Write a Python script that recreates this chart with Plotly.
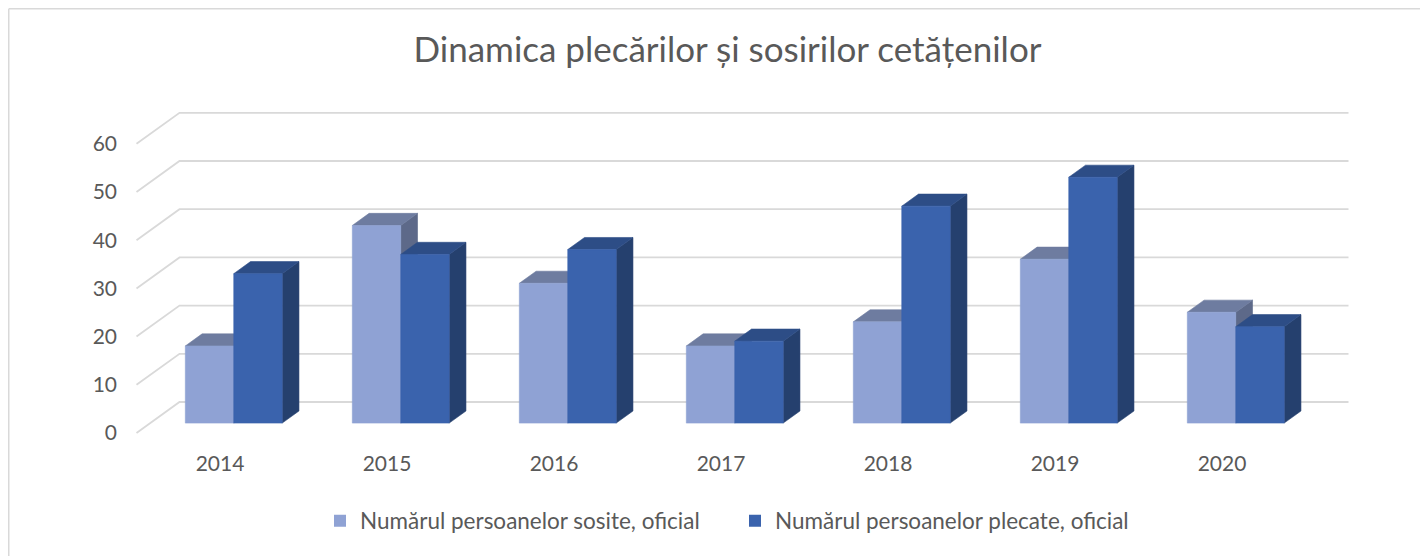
import plotly.graph_objects as go

# ---- data ----
years = ["2014", "2015", "2016", "2017", "2018", "2019", "2020"]
sosite = [16, 41, 29, 16, 21, 34, 23]      # Numărul persoanelor sosite, oficial
plecate = [31, 35, 36, 17, 45, 51, 20]     # Numărul persoanelor plecate, oficial
y_ticks = [0, 10, 20, 30, 40, 50, 60]
series_names = ["Numărul persoanelor sosite, oficial", "Numărul persoanelor plecate, oficial"]
title_text = "Dinamica plecărilor și sosirilor cetățenilor"

# ---- layout / projection constants (figure pixels; page body adds an 8px offset) ----
OFF = 8
W, H = 1428 - OFF, 556 - OFF
L, R, T, B = 114, 60, 87, 111
X0_PX, X_STEP_PX = 220.0 - OFF, 167.0      # category centre at front plane
Y0_PX, Y_UNIT_PX = 433.0 - OFF, 4.82       # value 0 at front plane, px per unit
DEPTH_DX_PX, DEPTH_DY_PX = 43.0, 31.0      # oblique depth offset of back wall

plot_w = W - L - R
plot_h = H - T - B
x_range = [(L - X0_PX) / X_STEP_PX, (W - R - X0_PX) / X_STEP_PX]
y_range = [(Y0_PX - (H - B)) / Y_UNIT_PX, (Y0_PX - T) / Y_UNIT_PX]
KX = DEPTH_DX_PX / X_STEP_PX
KY = DEPTH_DY_PX / Y_UNIT_PX

Z_FRONT, Z_BACK = 0.32, 0.71   # bar depth slot
BAR_W = 0.29
N = len(years)
XMIN, XMAX = -0.5, N - 0.5

GRID = "#D9D9D9"
TXT = "#595959"
FONT = "Lato"

colors = {
    0: dict(front="#8FA2D4", top="#6E7CA0", side="#5D6989"),
    1: dict(front="#3A63AD", top="#2D4D86", side="#25406E"),
}


def proj(x, v, z):
    return x + z * KX, v + z * KY


fig = go.Figure()

# gridlines (floor-left wall-back wall)
gx, gy = [], []
for t in y_ticks:
    for (x, z) in [(XMIN, 0), (XMIN, 1), (XMAX, 1)]:
        px, py = proj(x, t, z)
        gx.append(px)
        gy.append(py)
    gx.append(None)
    gy.append(None)
fig.add_trace(go.Scatter(x=gx, y=gy, mode="lines", line=dict(color=GRID, width=1.8),
                         hoverinfo="skip", showlegend=False))


def faces(values, s):
    side_x, side_y, top_x, top_y, fr_x, fr_y = [], [], [], [], [], []
    for i, v in enumerate(values):
        x1 = i - BAR_W if s == 0 else i
        x2 = x1 + BAR_W
        pts = [proj(x1, 0, Z_FRONT), proj(x2, 0, Z_FRONT), proj(x2, v, Z_FRONT), proj(x1, v, Z_FRONT), proj(x1, 0, Z_FRONT)]
        for p in pts:
            fr_x.append(p[0]); fr_y.append(p[1])
        fr_x.append(None); fr_y.append(None)
        pts = [proj(x1, v, Z_FRONT), proj(x2, v, Z_FRONT), proj(x2, v, Z_BACK), proj(x1, v, Z_BACK), proj(x1, v, Z_FRONT)]
        for p in pts:
            top_x.append(p[0]); top_y.append(p[1])
        top_x.append(None); top_y.append(None)
        pts = [proj(x2, 0, Z_FRONT), proj(x2, 0, Z_BACK), proj(x2, v, Z_BACK), proj(x2, v, Z_FRONT), proj(x2, 0, Z_FRONT)]
        for p in pts:
            side_x.append(p[0]); side_y.append(p[1])
        side_x.append(None); side_y.append(None)
    return (side_x, side_y), (top_x, top_y), (fr_x, fr_y)


for s, vals in enumerate([sosite, plecate]):
    side, top, front = faces(vals, s)
    c = colors[s]
    for (fx, fy), col in [(side, c["side"]), (top, c["top"]), (front, c["front"])]:
        fig.add_trace(go.Scatter(x=fx, y=fy, mode="lines", fill="toself", fillcolor=col,
                                 line=dict(color=col, width=0.6), hoverinfo="skip",
                                 showlegend=False))

# legend entries
for s in range(2):
    fig.add_trace(go.Scatter(x=[None], y=[None], mode="markers", name=series_names[s],
                             marker=dict(symbol="square", size=12, color=colors[s]["front"])))


def paper_x(px):
    return (px - L) / plot_w


def paper_y(py):
    return (H - B - py) / plot_h


# chart-area border (top & left edges visible)
fig.add_shape(type="line", xref="paper", yref="paper", x0=paper_x(0.75), x1=paper_x(W + 5),
              y0=paper_y(0.75), y1=paper_y(0.75), line=dict(color=GRID, width=1.5))
fig.add_shape(type="line", xref="paper", yref="paper", x0=paper_x(0.75), x1=paper_x(0.75),
              y0=paper_y(0.75), y1=paper_y(H + 5), line=dict(color=GRID, width=1.5))

fig.update_layout(
    width=W, height=H,
    margin=dict(l=L, r=R, t=T, b=B),
    paper_bgcolor="white", plot_bgcolor="white",
    font=dict(family=FONT, color=TXT),
    title=dict(text=title_text, x=(727.5 - OFF) / W, xanchor="center",
               y=1 - (50 - OFF) / H, yanchor="middle",
               font=dict(family=FONT, size=35, color=TXT)),
    xaxis=dict(range=x_range, tickmode="array", tickvals=list(range(N)), ticktext=years,
               showgrid=False, zeroline=False, showline=False, ticks="",
               tickfont=dict(family=FONT, size=21, color=TXT), ticklabelstandoff=4),
    yaxis=dict(range=y_range, tickmode="array", tickvals=y_ticks,
               showgrid=False, zeroline=False, showline=False, ticks="",
               tickfont=dict(family=FONT, size=21, color=TXT), ticklabelstandoff=4),
    legend=dict(orientation="h", x=(320 - OFF) / W, xref="container", xanchor="left",
                y=1 - (521 - OFF) / H, yref="container", yanchor="middle",
                entrywidth=370, entrywidthmode="pixels",
                font=dict(family=FONT, size=22.5, color=TXT)),
    showlegend=True,
)

fig.write_html("out.html")
